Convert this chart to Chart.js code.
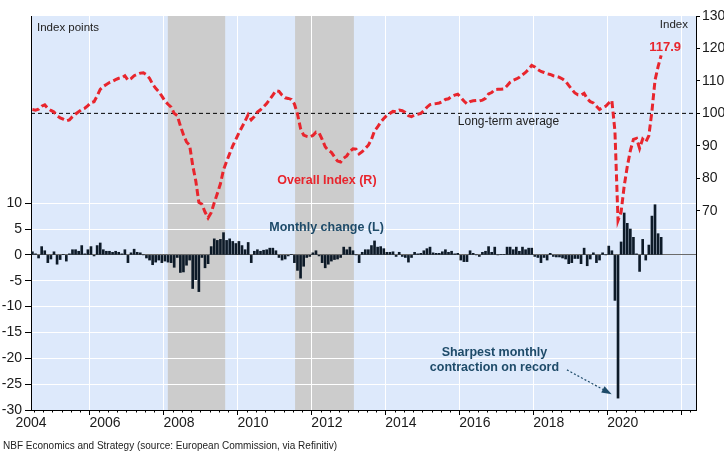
<!DOCTYPE html>
<html>
<head>
<meta charset="utf-8">
<script src="https://cdn.jsdelivr.net/npm/chart.js@4.4.0/dist/chart.umd.min.js"></script>
<style>
  html, body { margin: 0; padding: 0; background: #fff; }
  #wrap { width: 724px; height: 460px; position: relative; }
</style>
</head>
<body>
<div id="wrap"><canvas id="chart"></canvas></div>
<script>
// monthly observations, Jun 2004 .. Jun 2021
const startYear = 2004;
const startMonth = 6;

// overall index (right axis)
const overallIndex = [
    101.2, 101.0, 101.3, 102.2, 102.6, 101.5, 100.9,                           // 2004 Jun-Dec
    100.4, 99.3, 98.6, 98.2, 97.7, 98.0, 99.0, 99.8, 100.5, 101.2, 101.6, 102.4,  // 2005
    103.3, 103.6, 105.4, 107.4, 108.3, 108.9, 109.5, 109.9, 110.4, 110.8, 111.0, 111.6, // 2006
    110.2, 110.7, 111.6, 112.0, 112.4, 112.5, 111.9, 110.8, 109.0, 107.7, 106.7, 105.3, // 2007
    103.8, 102.8, 101.9, 100.0, 99.3, 96.2, 93.4, 91.2, 90.2, 84.0, 79.2, 72.6,   // 2008
    72.0, 69.6, 67.8, 69.4, 72.5, 75.3, 78.3, 82.6, 85.2, 87.6, 90.0, 92.0,       // 2009
    94.0, 95.8, 97.6, 99.6, 98.0, 99.0, 100.4, 101.1, 102.0, 103.0, 104.3, 105.6, // 2010
    107.0, 106.8, 105.6, 104.8, 104.6, 104.3, 102.9, 99.8, 95.3, 93.3, 92.9, 92.7, // 2011
    93.2, 94.2, 94.0, 92.0, 89.7, 88.6, 88.0, 86.6, 85.3, 85.0, 86.2, 86.9,       // 2012
    88.3, 89.1, 89.0, 87.5, 88.2, 89.2, 90.2, 92.0, 94.6, 95.8, 97.3, 98.4,       // 2013
    99.4, 100.0, 100.6, 100.5, 101.0, 100.8, 100.3, 99.3, 99.0, 99.5, 99.7, 100.0, // 2014
    100.8, 101.9, 102.7, 102.9, 103.0, 103.2, 103.6, 104.3, 104.5, 105.2, 105.6, 105.9, // 2015
    104.9, 103.8, 102.9, 103.6, 103.9, 104.0, 103.8, 104.1, 104.6, 106.0, 106.4, 107.3, // 2016
    107.4, 107.4, 107.5, 108.5, 109.6, 110.2, 110.6, 111.1, 111.9, 112.6, 113.6, 114.8, // 2017
    114.3, 113.5, 112.9, 112.6, 112.2, 112.0, 111.6, 111.4, 111.1, 110.6, 109.9, 108.6, // 2018
    107.4, 106.3, 105.7, 105.6, 106.2, 104.5, 103.6, 103.2, 102.2, 101.2, 101.8, 102.2, // 2019
    103.2, 104.0, 94.5, 67.0, 69.6, 77.6, 83.6, 88.5, 92.0, 92.3, 89.2, 92.1,     // 2020
    91.2, 93.1, 100.6, 110.2, 114.4, 117.9                                       // 2021 Jan-Jun
];

// monthly change (left axis)
const monthlyChange = [
    0.6, 0.2, -0.6, 1.6, 0.8, -1.5, -0.8,
    0.6, -1.8, -0.9, 0.1, -1.2, 0.2, 1.0, 1.0, 0.7, 1.8, 0.2, 1.0,
    1.6, -0.2, 1.8, 2.3, 1.0, 0.7, 0.7, 0.5, 0.7, 0.5, 0.2, 1.0,
    -1.5, 0.4, 1.1, 0.5, 0.4, 0.0, -0.6, -1.0, -1.9, -1.4, -1.0, -1.5,
    -1.2, -1.4, -1.5, -2.4, -0.5, -3.4, -3.3, -2.0, -1.0, -6.5, -4.8, -7.1,
    -0.5, -2.5, -1.7, 1.6, 3.1, 2.8, 3.0, 4.3, 2.8, 3.1, 2.6, 2.2,
    2.6, 1.8, 1.0, 2.4, -1.5, 0.7, 1.0, 0.7, 0.9, 1.0, 1.3, 1.3,
    0.8, -0.5, -1.0, -0.8, -0.2, 0.1, -1.5, -3.0, -4.5, -2.2, -0.5, -0.3,
    0.4, 0.8, -0.2, -1.5, -2.5, -1.8, -1.2, -0.9, -0.8, -0.5, 1.5, 1.0,
    1.5, 0.8, 0.0, -1.5, 0.5, 1.0, 1.0, 1.8, 2.7, 1.5, 1.6, 1.2,
    0.5, 0.5, 0.6, -0.3, 0.5, -0.3, -0.5, -1.4, -0.5, 0.5, 0.2, 0.3,
    0.8, 1.2, 1.5, 0.4, 0.3, 0.3, 0.6, 1.0, 0.5, 0.7, 0.2, 0.3,
    -1.0, -1.3, -1.3, 0.8, 0.3, 0.0, -0.3, 0.5, 0.7, 1.6, 0.5, 1.5,
    0.0, 0.1, 0.1, 1.5, 1.5, 1.0, 1.5, 0.7, 1.5, 1.0, 1.3, 1.3,
    -0.3, -0.5, -1.5, -0.5, -1.0, 0.3, -0.3, -0.4, -0.4, -0.6, -0.8, -1.7,
    -1.5, -0.7, -0.7, -1.7, 1.3, -2.1, -0.8, 0.4, -1.5, -1.0, 0.4, 0.0,
    1.7, 0.8, -8.8, -27.7, 2.5, 8.1, 6.1, 5.0, 3.4, 0.2, -3.2, 3.0,
    -1.0, 1.9, 7.5, 9.7, 4.1, 3.4
];

const longTermAverage = 100;
// shaded periods, in decimal years
const recessions = [[2008.12, 2009.67], [2011.56, 2013.15]];

const leftTicks = [-30, -25, -20, -15, -10, -5, 0, 5, 10];
const rightTicks = [70, 80, 90, 100, 110, 120, 130];
const yearLabels = [2004, 2006, 2008, 2010, 2012, 2014, 2016, 2018, 2020];

const X_MIN = 2004.42, X_MAX = 2022.4;
const RED = '#e8252d';
const NAVY = '#0d1a28';
const BLUE_TXT = '#1e4b69';
const FONT = "'Liberation Sans', Arial, sans-serif";

const months = overallIndex.map((_, i) => startYear + (startMonth - 1 + i + 0.5) / 12);
const isMajor = v => Number.isInteger(v) && v % 2 === 0;

const backdrop = {
    id: 'backdrop',
    beforeDraw(chart) {
        const { ctx, chartArea: a, scales: { x } } = chart;
        ctx.save();
        ctx.fillStyle = '#dde9fb';
        ctx.fillRect(a.left, a.top, a.right - a.left, a.bottom - a.top);
        ctx.fillStyle = '#cccccc';
        recessions.forEach(([s, e]) => {
            const x0 = x.getPixelForValue(s), x1 = x.getPixelForValue(e);
            ctx.fillRect(x0, a.top, x1 - x0, a.bottom - a.top);
        });
        ctx.restore();
    }
};

const notes = {
    id: 'notes',
    afterDraw(chart) {
        const { ctx, chartArea: a, scales: { x, yL, yR } } = chart;
        ctx.save();

        // minor ticks on the time axis
        ctx.strokeStyle = '#000';
        ctx.lineWidth = 1;
        x.ticks.forEach(t => {
            if (isMajor(t.value) || t.value < X_MIN) return;
            const px = Math.round(x.getPixelForValue(t.value)) + 0.5;
            ctx.beginPath();
            ctx.moveTo(px, a.bottom);
            ctx.lineTo(px, a.bottom + 2.5);
            ctx.stroke();
        });

        const txt = (s, px, py, font, color, align) => {
            ctx.font = font;
            ctx.fillStyle = color;
            ctx.textAlign = align || 'center';
            ctx.textBaseline = 'middle';
            ctx.fillText(s, px, py);
        };

        txt('Index points', a.left + 6, a.top + 12, '11.5px ' + FONT, '#222', 'left');
        txt('Index', a.right - 8, a.top + 9, '11.5px ' + FONT, '#222', 'right');
        txt('Long-term average', x.getPixelForValue(2017.33), yR.getPixelForValue(97.3), '12px ' + FONT, '#222');
        txt('Overall Index (R)', x.getPixelForValue(2012.42), yR.getPixelForValue(79.4), 'bold 12.5px ' + FONT, RED);
        txt('Monthly change (L)', x.getPixelForValue(2012.41), yL.getPixelForValue(5.2), 'bold 12.5px ' + FONT, BLUE_TXT);
        txt('Sharpest monthly', x.getPixelForValue(2016.95), yL.getPixelForValue(-18.96), 'bold 12.5px ' + FONT, BLUE_TXT);
        txt('contraction on record', x.getPixelForValue(2016.95), yL.getPixelForValue(-21.86), 'bold 12.5px ' + FONT, BLUE_TXT);

        const n = overallIndex.length - 1;
        txt(overallIndex[n].toFixed(1), x.getPixelForValue(months[n]) + 4,
            yR.getPixelForValue(overallIndex[n]) - 8, 'bold 13px ' + FONT, RED);

        // dashed arrow to the record drop
        const x0 = x.getPixelForValue(2018.91), y0 = yL.getPixelForValue(-22.24);
        const x1 = x.getPixelForValue(2020.12), y1 = yL.getPixelForValue(-26.94);
        const ang = Math.atan2(y1 - y0, x1 - x0);
        const hl = 10;
        ctx.strokeStyle = BLUE_TXT;
        ctx.lineWidth = 1.2;
        ctx.setLineDash([2, 2]);
        ctx.beginPath();
        ctx.moveTo(x0, y0);
        ctx.lineTo(x1 - hl * Math.cos(ang), y1 - hl * Math.sin(ang));
        ctx.stroke();
        ctx.setLineDash([]);
        ctx.fillStyle = BLUE_TXT;
        ctx.beginPath();
        ctx.moveTo(x1, y1);
        ctx.lineTo(x1 - hl * Math.cos(ang) + 3.5 * Math.sin(ang), y1 - hl * Math.sin(ang) - 3.5 * Math.cos(ang));
        ctx.lineTo(x1 - hl * Math.cos(ang) - 3.5 * Math.sin(ang), y1 - hl * Math.sin(ang) + 3.5 * Math.cos(ang));
        ctx.closePath();
        ctx.fill();

        txt('NBF Economics and Strategy (source: European Commission, via Refinitiv)', 3, 446, '10px ' + FONT, '#222', 'left');
        ctx.restore();
    }
};

new Chart(document.getElementById('chart'), {
    type: 'bar',
    data: {
        datasets: [
            {
                type: 'line',
                label: 'Overall Index (R)',
                data: months.map((m, i) => ({ x: m, y: overallIndex[i] })),
                yAxisID: 'yR',
                borderColor: RED,
                borderWidth: 3,
                borderDash: [7, 3.5],
                pointRadius: 0,
                tension: 0,
                order: 0
            },
            {
                type: 'line',
                label: 'Long-term average',
                data: [{ x: X_MIN, y: longTermAverage }, { x: X_MAX, y: longTermAverage }],
                yAxisID: 'yR',
                borderColor: '#000',
                borderWidth: 1,
                borderDash: [4, 3],
                pointRadius: 0,
                order: 1
            },
            {
                type: 'bar',
                label: 'Monthly change (L)',
                data: months.map((m, i) => ({ x: m, y: monthlyChange[i] })),
                yAxisID: 'yL',
                backgroundColor: NAVY,
                barThickness: 2,
                order: 2
            }
        ]
    },
    options: {
        responsive: true,
        maintainAspectRatio: false,
        animation: false,
        events: [],
        layout: { padding: { top: 16, left: 0, right: 0, bottom: 0 } },
        plugins: {
            legend: { display: false },
            tooltip: { enabled: false }
        },
        scales: {
            x: {
                type: 'linear',
                min: X_MIN,
                max: X_MAX,
                offset: false,
                afterBuildTicks: s => {
                    const t = [{ value: 2004 }];
                    for (let q = 2004.5; q <= 2022.25; q += 0.25) t.push({ value: q });
                    s.ticks = t;
                },
                afterFit: s => { s.height = 50; },
                grid: {
                    offset: false,
                    color: c => (c.tick && isMajor(c.tick.value) && c.tick.value > X_MIN) ? '#ffffff' : 'rgba(0,0,0,0)',
                    tickColor: c => (c.tick && isMajor(c.tick.value) && c.tick.value > X_MIN) ? '#000' : 'rgba(0,0,0,0)',
                    tickLength: 5,
                    lineWidth: 1
                },
                border: { color: '#000', width: 1 },
                ticks: {
                    autoSkip: false,
                    maxRotation: 0,
                    align: 'start',
                    padding: 0,
                    color: '#1a1a1a',
                    font: { family: FONT, size: 14 },
                    callback: v => yearLabels.includes(v) ? String(v) : ''
                }
            },
            yL: {
                type: 'linear',
                position: 'left',
                min: -30,
                max: 46.2,
                afterBuildTicks: s => { s.ticks = leftTicks.map(v => ({ value: v })); },
                afterFit: s => { s.width = 31; },
                grid: {
                    color: c => (c.tick && c.tick.value === 0) ? '#6b6b6b' : '#ffffff',
                    tickColor: '#000',
                    tickLength: 6,
                    lineWidth: 1
                },
                border: { color: '#000', width: 1 },
                ticks: {
                    padding: 3,
                    color: '#1a1a1a',
                    font: { family: FONT, size: 14 },
                    callback: v => String(v)
                }
            },
            yR: {
                type: 'linear',
                position: 'right',
                min: 8.6,
                max: 130,
                afterBuildTicks: s => { s.ticks = rightTicks.map(v => ({ value: v })); },
                afterFit: s => { s.width = 28; },
                grid: {
                    drawOnChartArea: false,
                    tickColor: '#000',
                    tickLength: 4
                },
                border: { color: '#000', width: 1 },
                ticks: {
                    padding: 2,
                    color: '#1a1a1a',
                    font: { family: FONT, size: 14 },
                    callback: v => String(v)
                }
            }
        }
    },
    plugins: [backdrop, notes]
});
</script>
</body>
</html>
